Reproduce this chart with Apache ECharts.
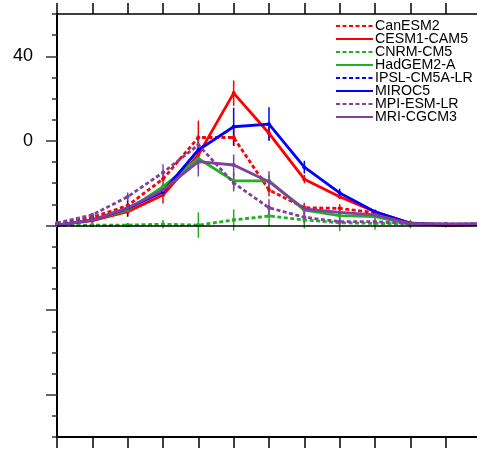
<!DOCTYPE html>
<html>
<head>
<meta charset="utf-8">
<script src="https://cdn.jsdelivr.net/npm/echarts@6/dist/echarts.min.js"></script>
<style>
  html, body { margin: 0; padding: 0; background: #fff; }
  #chart { width: 477px; height: 450px; }
</style>
</head>
<body>
<div id="chart"></div>
<script>
// x positions (time steps) and model names
const steps = [0, 1, 2, 3, 4, 5, 6, 7, 8, 9, 10, 11, 12];
const models = ["CanESM2", "CESM1-CAM5", "CNRM-CM5", "HadGEM2-A", "IPSL-CM5A-LR", "MIROC5", "MPI-ESM-LR", "MRI-CGCM3"];

// values (axis units)
const canESM2 = [-39.3, -36.1, -30.6, -18.0, 1.6, 1.6, -23.2, -31.6, -31.9, -34.0, -39.0, -39.8, -39.3];
const cesm1 = [-39.8, -37.7, -33.5, -25.6, -6.6, 22.6, 3.6, -18.1, -26.4, -33.5, -38.8, -40.0, -39.5];
const cnrm = [-39.8, -39.8, -39.8, -39.4, -39.8, -37.4, -35.5, -37.4, -38.7, -39.0, -39.3, -39.5, -39.5];
const hadGEM2 = [-39.8, -37.4, -32.7, -21.6, -8.3, -18.9, -18.9, -32.7, -35.3, -35.8, -39.3, -39.5, -39.5];
const ipsl = [];
const miroc5 = [-39.8, -37.4, -31.9, -24.0, -4.3, 6.7, 7.9, -12.4, -24.6, -33.5, -39.0, -39.5, -39.3];
const mpi = [-38.8, -35.0, -26.4, -15.0, -1.9, -19.9, -31.6, -36.1, -38.2, -38.2, -39.1, -39.3, -39.1];
const mri = [-39.8, -37.4, -31.7, -23.2, -9.8, -11.4, -19.3, -32.2, -33.8, -35.0, -39.1, -39.3, -39.3];

// error bar half lengths
const canESM2Err = [0, 1, 1, 2, 8, 4, 3, 2, 2, 1, 0, 0, 0];
const cesm1Err = [0, 1, 2, 4, 5, 6, 3, 2, 1, 1, 0, 0, 0];
const cnrmErr = [0, 1, 1, 2, 6, 5, 5, 4, 4, 3, 2, 1, 1];
const hadGEM2Err = [0, 1, 1, 2, 5, 4, 3, 2, 2, 1, 0, 0, 0];
const ipslErr = [];
const miroc5Err = [0, 1, 4, 2, 5, 9, 8, 3, 2, 1, 0, 0, 0];
const mpiErr = [0, 1, 2, 4, 5, 4, 4, 3, 2, 1, 0, 0, 0];
const mriErr = [0, 1, 2, 3, 7, 5, 5, 3, 2, 1, 0, 0, 0];

// y ticks
const majorTicks = [-120, -80, -40, 0, 40];
const minorTicks = [-140, -130, -110, -100, -90, -70, -60, -50, -30, -20, -10, 10, 20, 30, 50, 60];
const yLabels = [0, 40];
const baseline = -40;

const RED = "#ff0000", GREEN = "#22b022", BLUE = "#0000ff", PURPLE = "#8040a0";
const DASH = [4, 2.5];

const styles = [
  { color: RED, dashed: true },
  { color: RED, dashed: false },
  { color: GREEN, dashed: true },
  { color: GREEN, dashed: false },
  { color: BLUE, dashed: true },
  { color: BLUE, dashed: false },
  { color: PURPLE, dashed: true },
  { color: PURPLE, dashed: false }
];
const values = [canESM2, cesm1, cnrm, hadGEM2, ipsl, miroc5, mpi, mri];
const errors = [canESM2Err, cesm1Err, cnrmErr, hadGEM2Err, ipslErr, miroc5Err, mpiErr, mriErr];

const chart = echarts.init(document.getElementById("chart"));

const lineSeries = models.map((name, k) => ({
  name,
  type: "line",
  data: values[k].map((v, i) => [steps[i], v]),
  symbol: "circle",
  symbolSize: 4,
  lineStyle: { color: styles[k].color, width: 2.8, type: styles[k].dashed ? DASH : "solid" },
  itemStyle: { color: styles[k].color },
  z: 3
}));

const errSeries = models.map((name, k) => ({
  type: "custom",
  data: values[k].map((v, i) => [steps[i], v, errors[k][i]]),
  renderItem: (params, api) => {
    const x = api.value(0), v = api.value(1), e = api.value(2);
    const p1 = api.coord([x, v - e]);
    const p2 = api.coord([x, v + e]);
    return {
      type: "line",
      shape: { x1: p1[0], y1: p1[1], x2: p2[0], y2: p2[1] },
      style: { stroke: styles[k].color, lineWidth: 1.5 }
    };
  },
  silent: true,
  z: 2
}));

// zero reference line
lineSeries[0].markLine = {
  silent: true,
  symbol: "none",
  label: { show: false },
  lineStyle: { color: "#000", width: 1.5, type: "solid" },
  data: [{ yAxis: baseline }]
};

chart.setOption({
  animation: false,
  backgroundColor: "#fff",
  grid: { left: 57, top: 14, width: 424, height: 423, outerBoundsMode: "none" },
  legend: {
    data: models,
    orient: "vertical",
    left: 330,
    top: 14,
    itemWidth: 37,
    itemHeight: 10,
    itemGap: -1,
    itemStyle: { opacity: 0 },
    textStyle: { color: "#000", fontSize: 14.2, fontFamily: "Liberation Sans", padding: [0, 0, 0, -3], lineHeight: 12 }
  },
  xAxis: [
    {
      type: "value", min: 0, max: 12, interval: 1, position: "bottom",
      axisLine: { show: true, onZero: false, lineStyle: { color: "#000", width: 2 } },
      axisTick: { show: true, length: 11, lineStyle: { color: "#000", width: 1.5 } },
      axisLabel: { show: false },
      splitLine: { show: false }
    },
    {
      type: "value", min: 0, max: 12, interval: 1, position: "top",
      axisLine: { show: true, onZero: false, lineStyle: { color: "#000", width: 1.5 } },
      axisTick: { show: true, length: 11, lineStyle: { color: "#000", width: 1.5 } },
      axisLabel: { show: false },
      splitLine: { show: false }
    }
  ],
  yAxis: [
    {
      type: "value", min: -140, max: 60, position: "left",
      axisLine: { show: true, onZero: false, lineStyle: { color: "#000", width: 2 } },
      axisTick: { show: true, length: 11, customValues: majorTicks, lineStyle: { color: "#333", width: 1.5 } },
      axisLabel: { show: true, customValues: yLabels, margin: 24, color: "#000", fontSize: 18, fontFamily: "Liberation Sans" },
      splitLine: { show: false }
    },
    {
      type: "value", min: -140, max: 60, position: "left",
      axisLine: { show: false, onZero: false },
      axisTick: { show: true, length: 5, customValues: minorTicks, lineStyle: { color: "#333", width: 1.5 } },
      axisLabel: { show: false },
      splitLine: { show: false }
    }
  ],
  series: [...errSeries, ...lineSeries]
});
</script>
</body>
</html>
